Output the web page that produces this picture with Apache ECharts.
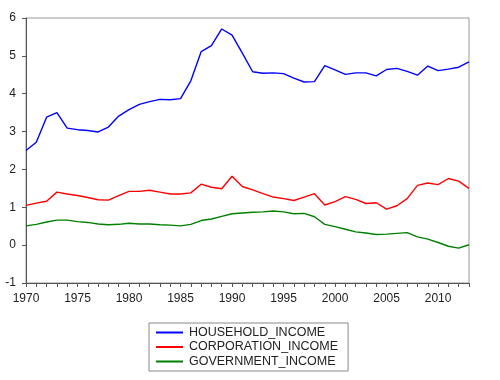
<!DOCTYPE html>
<html><head><meta charset="utf-8">
<script src="https://cdn.jsdelivr.net/npm/echarts@6/dist/echarts.min.js"></script>
<style>html,body{margin:0;padding:0;background:#fff}#c{width:500px;height:380px}</style>
</head><body><div id="c"></div>
<script>
const years = [];
for (let y = 1970; y <= 2013; y++) years.push(y);
const household = [2.50,2.72,3.38,3.50,3.09,3.05,3.03,2.99,3.12,3.41,3.58,3.72,3.79,3.85,3.84,3.87,4.34,5.11,5.27,5.71,5.55,5.07,4.58,4.54,4.55,4.53,4.41,4.31,4.32,4.74,4.63,4.51,4.55,4.55,4.47,4.64,4.67,4.59,4.49,4.73,4.61,4.65,4.70,4.84];
const corporation = [1.05,1.11,1.16,1.40,1.35,1.31,1.26,1.20,1.19,1.31,1.42,1.42,1.45,1.40,1.35,1.35,1.38,1.61,1.53,1.49,1.82,1.55,1.46,1.36,1.27,1.23,1.18,1.27,1.36,1.06,1.15,1.28,1.21,1.10,1.12,0.95,1.04,1.23,1.58,1.64,1.60,1.76,1.69,1.50];
const government = [0.51,0.55,0.61,0.66,0.66,0.62,0.60,0.56,0.54,0.55,0.58,0.56,0.56,0.54,0.53,0.51,0.55,0.65,0.69,0.76,0.83,0.85,0.87,0.88,0.90,0.88,0.83,0.84,0.75,0.55,0.49,0.42,0.35,0.32,0.28,0.29,0.31,0.33,0.22,0.16,0.07,-0.03,-0.08,0.01];
const names = ['HOUSEHOLD_INCOME','CORPORATION_INCOME','GOVERNMENT_INCOME'];
const colors = ['#0000ff','#ff0000','#008000'];
const pair = arr => arr.map((v,i)=>[years[i],v]);
const chart = echarts.init(document.getElementById('c'));
const font = 'Liberation Sans, Arial, sans-serif';
chart.setOption({
  animation:false,
  grid:{left:26,right:31,top:18,bottom:97,show:true,borderColor:'#999',borderWidth:1},
  xAxis:{type:'value',min:1970,max:2013,interval:5,
    axisLine:{onZero:false,lineStyle:{color:'#555'}},
    axisTick:{show:true,length:4,lineStyle:{color:'#555'}},
    minorTick:{show:true,splitNumber:5,length:4,lineStyle:{color:'#555'}},
    splitLine:{show:false},
    axisLabel:{color:'#222',fontSize:12,fontFamily:font,margin:10,showMaxLabel:false,formatter:v=>String(v)}},
  yAxis:{type:'value',min:-1,max:6,interval:1,
    axisLine:{show:true,onZero:false,lineStyle:{color:'#555'}},
    axisTick:{show:true,length:4,lineStyle:{color:'#555'}},
    splitLine:{show:false},
    axisLabel:{color:'#222',fontSize:12,fontFamily:font,margin:10}},
  legend:{orient:'vertical',left:149,top:323,width:196,
    borderColor:'#888',borderWidth:1,padding:[3,10,3,7],itemGap:1.5,
    itemWidth:27,itemHeight:2,icon:'rect',
    textStyle:{fontSize:12.5,fontFamily:font,color:'#222',padding:[0,0,0,1]},
    data:names},
  series:[
    {name:names[0],type:'line',data:pair(household),symbol:'none',lineStyle:{width:1.4,color:colors[0]},itemStyle:{color:colors[0]}},
    {name:names[1],type:'line',data:pair(corporation),symbol:'none',lineStyle:{width:1.4,color:colors[1]},itemStyle:{color:colors[1]}},
    {name:names[2],type:'line',data:pair(government),symbol:'none',lineStyle:{width:1.4,color:colors[2]},itemStyle:{color:colors[2]}}
  ]
});
</script></body></html>
